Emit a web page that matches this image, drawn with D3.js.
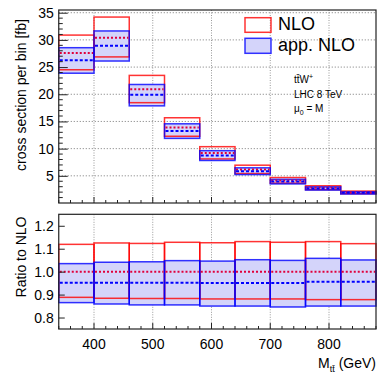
<!DOCTYPE html>
<html>
<head>
<meta charset="utf-8">
<script src="https://cdn.jsdelivr.net/npm/d3@7"></script>
<style>
  body { margin: 0; background: #fff; }
  text { font-family: "Liberation Sans", Arial, sans-serif; fill: #000; }
</style>
</head>
<body>
<div id="chart"></div>
<script>
var svgWidth = 392;
var svgHeight = 381;

// bins in M_tt (GeV)
var binEdges = [340, 400, 460, 520, 580, 640, 700, 760, 820, 880];
// NLO central value per bin [fb]
var nloCentral = [27.6, 30.4, 20.9, 13.9, 9.2, 6.15, 4.15, 2.8, 1.95];
// ratios to NLO central
var nloUp = [1.119, 1.125, 1.123, 1.128, 1.126, 1.131, 1.128, 1.131, 1.122];
var nloDown = [0.888, 0.884, 0.883, 0.883, 0.881, 0.881, 0.881, 0.878, 0.878];
var appUp = [1.035, 1.041, 1.043, 1.048, 1.046, 1.052, 1.049, 1.058, 1.051];
var appCentral = [0.952, 0.952, 0.952, 0.952, 0.951, 0.951, 0.951, 0.956, 0.956];
var appDown = [0.865, 0.859, 0.855, 0.855, 0.850, 0.850, 0.846, 0.850, 0.850];

var topTicks = [5, 10, 15, 20, 25, 30, 35];
var ratioTicks = [0.8, 0.9, 1.0, 1.1, 1.2];
var xTicks = [400, 500, 600, 700, 800];

var bins = nloCentral.map(function(c, i) {
  return {
    x0: binEdges[i], x1: binEdges[i + 1], c: c,
    nloUp: nloUp[i], nloDown: nloDown[i],
    appUp: appUp[i], appC: appCentral[i], appDown: appDown[i]
  };
});

var svg = d3.select("#chart").append("svg")
  .attr("width", svgWidth)
  .attr("height", svgHeight);

var x = d3.scaleLinear().domain([340, 880]).range([58.75, 376]);
var yTop = d3.scaleLinear().domain([0, 35.5]).range([203, 10]);
var yRat = d3.scaleLinear().domain([0.75, 1.25]).range([329, 214.3]);

var red = "#ff0000", blue = "#0000ff", fillBlue = "#d4d4fa";

// draw one panel; f(d, key) gives value of a band edge
function drawPanel(y, f, opts) {
  var g = svg.append("g");
  var top = y.range()[1], bot = y.range()[0];

  // grid
  g.selectAll(".vgrid").data(xTicks).enter().append("line")
    .attr("x1", d => x(d)).attr("x2", d => x(d))
    .attr("y1", top).attr("y2", bot)
    .attr("stroke", "#999").attr("stroke-width", 1)
    .attr("stroke-dasharray", "1,1.5");
  if (opts.hgrid) {
    g.selectAll(".hgrid").data(opts.hgrid).enter().append("line")
      .attr("x1", x.range()[0]).attr("x2", x.range()[1])
      .attr("y1", d => y(d)).attr("y2", d => y(d))
      .attr("stroke", "#777").attr("stroke-width", 1)
      .attr("stroke-dasharray", "1,2");
  }

  // app. NLO filled band
  g.selectAll(".appfill").data(bins).enter().append("rect")
    .attr("x", d => x(d.x0)).attr("width", d => x(d.x1) - x(d.x0))
    .attr("y", d => y(f(d, "appUp")))
    .attr("height", d => y(f(d, "appDown")) - y(f(d, "appUp")))
    .attr("fill", fillBlue);

  // NLO box outline
  g.selectAll(".nlobox").data(bins).enter().append("rect")
    .attr("x", d => x(d.x0)).attr("width", d => x(d.x1) - x(d.x0))
    .attr("y", d => y(f(d, "nloUp")))
    .attr("height", d => y(f(d, "nloDown")) - y(f(d, "nloUp")))
    .attr("fill", "none").attr("stroke", red).attr("stroke-width", 1.5)
    .attr("stroke-opacity", 0.8);

  // app. NLO outline
  g.selectAll(".appbox").data(bins).enter().append("rect")
    .attr("x", d => x(d.x0)).attr("width", d => x(d.x1) - x(d.x0))
    .attr("y", d => y(f(d, "appUp")))
    .attr("height", d => y(f(d, "appDown")) - y(f(d, "appUp")))
    .attr("fill", "none").attr("stroke", blue).attr("stroke-width", 1.5)
    .attr("stroke-opacity", 0.8);

  // central values
  g.selectAll(".nloc").data(bins).enter().append("line")
    .attr("x1", d => x(d.x0) + 1).attr("x2", d => x(d.x1) - 1)
    .attr("y1", d => y(f(d, "c"))).attr("y2", d => y(f(d, "c")))
    .attr("stroke", "#e0003c").attr("stroke-width", 2)
    .attr("stroke-dasharray", "2,2");
  g.selectAll(".appc").data(bins).enter().append("line")
    .attr("x1", d => x(d.x0) + 1).attr("x2", d => x(d.x1) - 1)
    .attr("y1", d => y(f(d, "appC"))).attr("y2", d => y(f(d, "appC")))
    .attr("stroke", blue).attr("stroke-width", 2)
    .attr("stroke-dasharray", "3,2");

  // frame
  g.append("rect")
    .attr("x", x.range()[0]).attr("y", top)
    .attr("width", x.range()[1] - x.range()[0]).attr("height", bot - top)
    .attr("fill", "none").attr("stroke", "#222").attr("stroke-width", 1.2);

  // x ticks (inside, from bottom)
  var xMinor = d3.range(340, 881, 20);
  g.selectAll(".xt").data(xMinor).enter().append("line")
    .attr("x1", d => x(d)).attr("x2", d => x(d))
    .attr("y1", bot).attr("y2", d => bot - (d % 100 === 0 ? 6 : 3))
    .attr("stroke", "#222").attr("stroke-width", 1);

  // y ticks (inside, from left)
  var yAxis = d3.axisRight(y).tickValues(opts.yTicks).tickSize(opts.tickLen)
    .tickFormat(opts.fmt);
  var ya = g.append("g").attr("transform", `translate(${x.range()[0]},0)`).call(yAxis);
  ya.select(".domain").remove();
  ya.selectAll("line").attr("stroke", "#222");
  ya.selectAll("text")
    .attr("x", -5).attr("text-anchor", "end")
    .style("font-size", "14px").attr("fill", "#000")
    .attr("font-family", "Liberation Sans, Arial, sans-serif");
  if (opts.minor) {
    g.selectAll(".ym").data(opts.minor).enter().append("line")
      .attr("x1", x.range()[0]).attr("x2", x.range()[0] + 4)
      .attr("y1", d => y(d)).attr("y2", d => y(d))
      .attr("stroke", "#222").attr("stroke-width", 1);
  }
  return g;
}

drawPanel(yTop, function(d, k) { return k === "c" ? d.c : d.c * d[k]; }, {
  hgrid: topTicks, yTicks: topTicks, tickLen: 9, fmt: d3.format("d"),
  minor: d3.range(1, 36).filter(d => d % 5 !== 0)
});
drawPanel(yRat, function(d, k) { return k === "c" ? 1 : d[k]; }, {
  yTicks: ratioTicks, tickLen: 6, fmt: d3.format(".1f")
});

// x tick labels on ratio panel
svg.selectAll(".xl").data(xTicks).enter().append("text")
  .attr("x", d => x(d)).attr("y", 349)
  .attr("text-anchor", "middle").style("font-size", "14px")
  .text(d => d);

// axis titles
svg.append("text")
  .attr("transform", "translate(26,95) rotate(-90)")
  .attr("text-anchor", "middle").style("font-size", "14px")
  .text("cross section per bin [fb]");
svg.append("text")
  .attr("transform", "translate(26,257) rotate(-90)")
  .attr("text-anchor", "middle").style("font-size", "14px")
  .text("Ratio to NLO");

var xt = svg.append("text").attr("x", 376).attr("y", 368)
  .attr("text-anchor", "end").style("font-size", "14px");
xt.append("tspan").text("M");
xt.append("tspan").attr("dy", 4).style("font-size", "9px").text("tt\u0304");
xt.append("tspan").attr("dy", -4).text(" (GeV)");

// legend
var leg = svg.append("g");
leg.append("rect").attr("x", 245).attr("y", 17.7).attr("width", 26).attr("height", 14.6)
  .attr("fill", "none").attr("stroke", red).attr("stroke-width", 1.5).attr("stroke-opacity", 0.8);
leg.append("text").attr("x", 278).attr("y", 30).style("font-size", "18px").text("NLO");
leg.append("rect").attr("x", 245).attr("y", 38.3).attr("width", 26).attr("height", 15)
  .attr("fill", fillBlue).attr("stroke", blue).attr("stroke-width", 1.5).attr("stroke-opacity", 0.8);
leg.append("text").attr("x", 278).attr("y", 51).style("font-size", "18px").text("app. NLO");

// process label
var info = svg.append("g").style("font-size", "10px");
var t1 = info.append("text").attr("x", 294).attr("y", 83);
t1.append("tspan").text("tt\u0304W");
t1.append("tspan").attr("dy", -4).style("font-size", "7px").text("+");
info.append("text").attr("x", 294).attr("y", 97.5).text("LHC 8 TeV");
var t3 = info.append("text").attr("x", 294).attr("y", 112);
t3.append("tspan").text("\u03bc");
t3.append("tspan").attr("dy", 3).style("font-size", "7px").text("0");
t3.append("tspan").attr("dy", -3).text(" = M");
</script>
</body>
</html>
